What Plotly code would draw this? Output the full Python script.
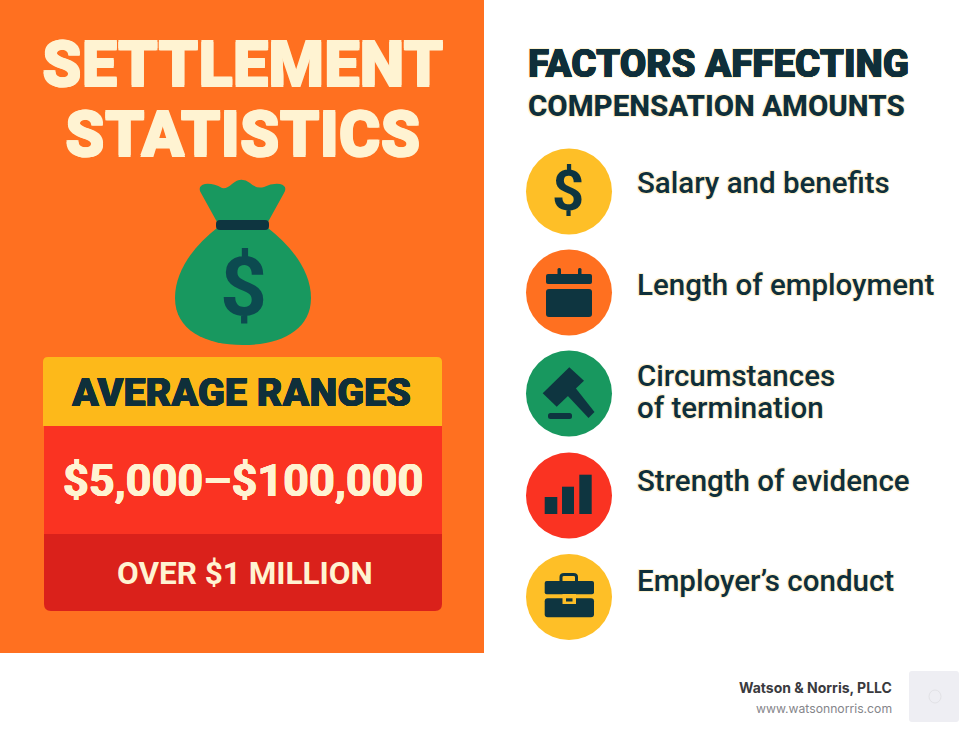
import plotly.graph_objects as go

ORANGE = '#FF7020'
YELLOW = '#FDB91A'
SOFT_YELLOW = '#FEBF27'
GREEN = '#18985F'
NAVY = '#0E3540'
DARK_TEXT = '#0F2F3A'
TEAL = '#0C4A50'
RED = '#FA3322'
DARK_RED = '#DA211B'
CREAM = '#FFF3D2'

# text
left_title = ['SETTLEMENT', 'STATISTICS']
right_title = ['FACTORS AFFECTING', 'COMPENSATION AMOUNTS']
box_labels = ['AVERAGE RANGES', '$5,000–$100,000', 'OVER $1 MILLION']
factor_lines = [['Salary and benefits'], ['Length of employment'],
                ['Circumstances', 'of termination'], ['Strength of evidence'],
                ['Employer’s conduct']]
factor_colors = [SOFT_YELLOW, ORANGE, GREEN, RED, SOFT_YELLOW]
firm_name = 'Watson & Norris, PLLC'
firm_site = 'www.watsonnorris.com'

FONT = 'Roboto'
HALO = '1px 1px 0 #FFF3D2, -1px 1px 0 #FFF3D2, 1px -1px 0 #FFF3D2, -1px -1px 0 #FFF3D2'


def thicken(color, d=1):
    return f'{d}px {d}px 0 {color}, -{d}px {d}px 0 {color}, {d}px -{d}px 0 {color}, -{d}px -{d}px 0 {color}'


fig = go.Figure()
shapes = []
notes = []


def box(x0, y0, x1, y1, color):
    shapes.append(dict(type='rect', x0=x0, y0=y0, x1=x1, y1=y1,
                       fillcolor=color, line_width=0, layer='above'))


def path(d, color):
    shapes.append(dict(type='path', path=d, fillcolor=color, line_width=0, layer='above'))


def rounded(x0, y0, x1, y1, r, color, top=True, bottom=True):
    rt = r if top else 0
    rb = r if bottom else 0
    d = (f'M {x0+rt} {y0} L {x1-rt} {y0} Q {x1} {y0} {x1} {y0+rt} '
         f'L {x1} {y1-rb} Q {x1} {y1} {x1-rb} {y1} L {x0+rb} {y1} Q {x0} {y1} {x0} {y1-rb} '
         f'L {x0} {y0+rt} Q {x0} {y0} {x0+rt} {y0} Z')
    path(d, color)


def text(x, y, s, size, color, weight=700, anchor='center', shadow=None, family=FONT):
    font = dict(family=family, size=size, color=color, weight=weight)
    if shadow:
        font['shadow'] = shadow
    notes.append(dict(x=x, y=y, text=s, xref='x', yref='y', showarrow=False,
                      xanchor=anchor, yanchor='middle', font=font))


# left panel
box(0, 0, 484, 653, ORANGE)
text(242, 64.5, left_title[0], 63.5, CREAM, 900, shadow=thicken(CREAM, 0.6))
text(242, 134.5, left_title[1], 63.5, CREAM, 900, shadow=thicken(CREAM, 0.6))

# money bag
path('M 217 228 C 195 245 175 270 175 298 C 175 330 205 345 243 345 '
     'C 281 345 311 330 311 298 C 311 270 290 245 268 228 Z', GREEN)
path('M 217 222 L 201 193 Q 197 186 205 184 Q 213 183 222 188 Q 227 189 232 184 '
     'Q 241 176 250 183 Q 256 189 264 187 Q 272 183 280 184 Q 288 186 284 193 L 268 222 Z', GREEN)
rounded(216, 220, 269, 230, 4, NAVY)
text(243, 287, '$', 82, TEAL, 700)

# ranges box
rounded(43, 357, 442, 426, 5, YELLOW, bottom=False)
box(44, 426, 442, 534, RED)
rounded(44, 534, 442, 611, 7, DARK_RED, top=False)
text(241, 392, box_labels[0], 39.5, DARK_TEXT, 900, shadow=thicken(DARK_TEXT, 0.3))
text(243, 480, box_labels[1], 45, CREAM, 700, shadow=thicken(CREAM, 0.4))
text(245, 573, box_labels[2], 31.5, CREAM, 700)

# right panel
title_shadow = thicken(DARK_TEXT, 0.3) + ', ' + HALO
text(526, 63, right_title[0], 38.5, DARK_TEXT, 900, 'left', title_shadow)
text(526, 106, right_title[1], 29.5, DARK_TEXT, 800, 'left', HALO)

centers = [191.5, 292.5, 393.5, 495.5, 597]
label_y = [[183], [284.5], [375.5, 407.5], [481], [581]]
for cy, color, lines, ys in zip(centers, factor_colors, factor_lines, label_y):
    shapes.append(dict(type='circle', x0=526, y0=cy - 43, x1=612, y1=cy + 43,
                       fillcolor=color, line_width=0, layer='above'))
    for line, y in zip(lines, ys):
        text(635, y, line, 29.5, DARK_TEXT, 500, 'left', HALO)

# salary icon
text(568, 191, '$', 56, NAVY, 700)

# calendar icon
rounded(546, 274, 592, 284, 2, NAVY)
rounded(546, 289, 592, 317, 3, NAVY)
rounded(557.5, 268, 561, 275, 1.5, NAVY)
rounded(578, 268, 581.5, 275, 1.5, NAVY)

# gavel icon
path('M 569.3 367.3 L 584 380.7 L 556.7 406.7 L 542.7 393.3 Z', NAVY)
path('M 574 386 L 594.5 412 L 588.5 418 L 566 394 Z', NAVY)
rounded(548, 413, 572, 419, 2.5, NAVY)

# bars icon
box(544.7, 497, 557.3, 514, NAVY)
box(562, 486.7, 574, 514, NAVY)
box(579.3, 474.7, 591.7, 514, NAVY)

# briefcase icon
path('M 559.5 581 L 559.5 577 Q 559.5 573 564 573 L 573.5 573 Q 578 573 578 577 L 578 581 '
     'L 575 581 L 575 577 Q 575 576 573.5 576 L 564 576 Q 562.5 576 562.5 577 L 562.5 581 Z', NAVY)
rounded(544.7, 581, 594, 594.3, 2, NAVY)
rounded(544.7, 598.3, 594, 617.3, 3, NAVY)
box(562.5, 594, 576, 604, SOFT_YELLOW)
box(566, 598.3, 572.5, 601.5, NAVY)

# footer
text(894, 687, firm_name, 14, '#3A3A3E', 700, 'right', family='Inter')
text(894, 708, firm_site, 12.2, '#85858A', 400, 'right', family='Inter')
rounded(909, 671, 959, 722, 3, '#EEEEF3')
shapes.append(dict(type='circle', x0=929, y0=690, x1=941, y1=703, fillcolor='#EEEEF3',
                   line=dict(color='#E2E2E6', width=1), layer='above'))

fig.update_layout(
    width=980, height=736,
    margin=dict(l=0, r=0, t=0, b=0),
    paper_bgcolor='white', plot_bgcolor='white',
    showlegend=False,
    xaxis=dict(range=[0, 980], visible=False, fixedrange=True),
    yaxis=dict(range=[736, 0], visible=False, fixedrange=True),
    shapes=shapes, annotations=notes,
)

fig.write_html('out.html', config=dict(displayModeBar=False),
               post_script="document.body.style.margin='0';")
